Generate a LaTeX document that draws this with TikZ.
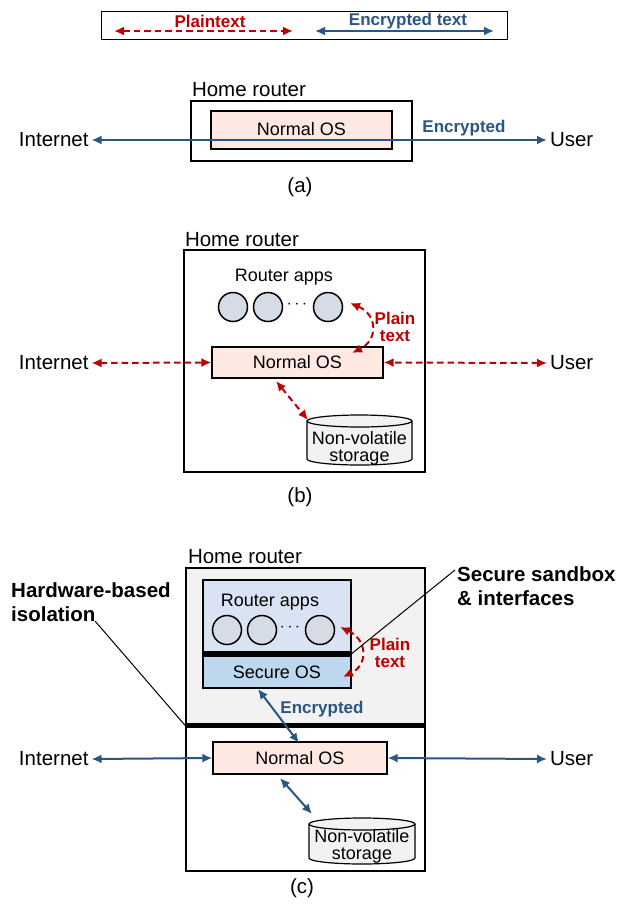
\documentclass[tikz,border=0pt]{standalone}
\usepackage{fontspec}
\setmainfont{Liberation Sans}
\usetikzlibrary{arrows.meta}
\definecolor{cred}{HTML}{C00000}
\definecolor{cblue}{HTML}{2B5582}
\definecolor{cpink}{HTML}{FDE9E2}
\definecolor{cgray}{HTML}{F2F2F2}
\definecolor{capps}{HTML}{DAE3F3}
\definecolor{csos}{HTML}{BDD7EE}
\definecolor{ccirc}{HTML}{D6DCE5}
\begin{document}
\begin{tikzpicture}[x=1pt,y=-1pt,
 big/.style={font=\fontsize{20.5}{22}\selectfont, inner sep=0pt, outer sep=3pt},
 mid/.style={font=\fontsize{18}{17}\selectfont, inner sep=0pt, align=center},
 boldlbl/.style={font=\bfseries\fontsize{17}{17}\selectfont, inner sep=0pt, align=center},
 bigbold/.style={font=\bfseries\fontsize{20.5}{24}\selectfont, inner sep=0pt, align=left},
 osbox/.style={draw, line width=1.3pt, fill=cpink, font=\fontsize{18}{20}\selectfont, inner sep=0pt},
 frame/.style={draw, line width=1.3pt, inner sep=0pt},
 app/.style={circle, draw, line width=1.5pt, fill=ccirc, minimum size=29pt, inner sep=0pt},
 encarrow/.style={cblue, line width=2pt, {Latex[length=10pt,width=9pt]}-{Latex[length=10pt,width=9pt]}},
 plainarrow/.style={cred, line width=2pt, dash pattern=on 6.5pt off 4pt, {Latex[length=10pt,width=9pt]}-{Latex[length=10pt,width=9pt]}},
 leader/.style={line width=1pt},
 storage/.style={draw, line width=1.2pt, fill=cgray},
]
\useasboundingbox (0,0) rectangle (617,906);

% ---------------- legend ----------------
\node[draw, line width=1pt, minimum width=406pt, minimum height=28pt, inner sep=0pt] (legend) at (304,25) {};
\node[boldlbl, text=cred] (lgplain) at (210,21.5) {Plaintext};
\node[boldlbl, text=cblue] (lgenc) at (408,21.5) {Encrypted text};
\coordinate (lp1) at (114,31);
\coordinate (lp2) at (293,31);
\coordinate (le1) at (315,31);
\coordinate (le2) at (494,31);
\draw[plainarrow] (lp1) -- (lp2);
\draw[encarrow] (le1) -- (le2);

% ---------------- (a) ----------------
\node[big, anchor=west] (hrA) at (189,90) {Home router};
\node[frame, minimum width=221pt, minimum height=60pt] (boxA) at (301.5,131) {};
\node[osbox, minimum width=181pt, minimum height=38pt] (nosA) at (301.5,130) {\raisebox{2pt}{Normal OS}};
\node[big, anchor=west] (inetA) at (16,140) {Internet};
\node[big, anchor=west] (userA) at (547,140) {User};
\draw[encarrow] (inetA.east) -- (userA.west);
\node[boldlbl, text=cblue] (encA) at (464,128) {Encrypted};
\node[big] (capA) at (300,187) {(a)};

% ---------------- (b) ----------------
\node[big, anchor=west] (hrB) at (182,240) {Home router};
\node[frame, minimum width=241pt, minimum height=222pt] (boxB) at (304.5,361) {};
\node[mid] (appsB) at (284,277) {Router apps};
\node[app] (a1B) at (233,307) {};
\node[app] (a2B) at (268,307) {};
\node[app] (a3B) at (328,307) {};
\node[mid] (dotsB) at (297,305) {$\cdots$};
\node[osbox, minimum width=171pt, minimum height=31pt] (nosB) at (297.5,362.5) {Normal OS};
\node[big, anchor=west] (inetB) at (16,363) {Internet};
\node[big, anchor=west] (userB) at (547,363) {User};
\draw[plainarrow] (inetB.east) -- (nosB.west);
\draw[plainarrow] (userB.west) -- (nosB.east);
\coordinate (pb1) at (350,303);
\coordinate (pb2) at (352,353);
\draw[plainarrow] (pb1) .. controls (378,315) and (378,340) .. (pb2);
\node[boldlbl, text=cred] (ptB) at (395,327) {Plain\\text};
\draw[storage] (307,421) -- (307,459) arc[start angle=180, end angle=0, x radius=52.5, y radius=6]
  -- (412,421) arc[start angle=0, end angle=-180, x radius=52.5, y radius=6] -- cycle;
\draw[line width=1.2pt] (307,421) arc[start angle=180, end angle=0, x radius=52.5, y radius=6];
\node[mid] (stB) at (359.5,448) {Non-volatile\\storage};
\coordinate (nosBs) at (276,381);
\coordinate (stBt) at (308,420);
\draw[plainarrow] (nosBs) -- (stBt);
\node[big] (capB) at (300,497) {(b)};

% ---------------- (c) ----------------
\node[big, anchor=west] (hrC) at (185,557) {Home router};
\node[frame, fill=cgray, minimum width=239pt, minimum height=157pt] (trC) at (305.5,646.5) {};
\node[frame, minimum width=239pt, minimum height=146pt] (nwC) at (305.5,798) {};
\draw[line width=5pt] (trC.south west) -- (trC.south east);
\node[draw, line width=1.3pt, fill=capps, minimum width=148pt, minimum height=73pt, inner sep=0pt] (appsC) at (277,616.5) {};
\node[draw, line width=1.3pt, fill=csos, minimum width=148pt, minimum height=35pt, inner sep=0pt] (sosC) at (277,670.5) {};
\draw[line width=6pt] (appsC.south west) -- (appsC.south east);
\node[mid] (appslC) at (270,602) {Router apps};
\node[mid] (soslC) at (277,672) {Secure OS};
\node[app] (a1C) at (227,630) {};
\node[app] (a2C) at (262,630) {};
\node[app] (a3C) at (320,630) {};
\node[mid] (dotsC) at (290,628) {$\cdots$};
\coordinate (pc1) at (340,627);
\coordinate (pc2) at (343,677);
\draw[plainarrow] (pc1) .. controls (368,640) and (368,665) .. (pc2);
\node[boldlbl, text=cred] (ptC) at (390,653) {Plain\\text};
\node[bigbold, anchor=north west] (ssC) at (457,566) {Secure sandbox\\\& interfaces};
\coordinate (ssend) at (455,570);
\draw[leader] (ssend) -- (appsC.south east);
\node[bigbold, anchor=north west] (hwC) at (11,582.5) {Hardware-based\\isolation};
\coordinate (hwend) at (95,621);
\draw[leader] (hwend) -- (trC.south west);
\node[osbox, minimum width=174pt, minimum height=32pt] (nosC) at (300,758) {Normal OS};
\coordinate (sosb) at (258,689);
\coordinate (nosCt) at (299,743);
\draw[encarrow] (sosb) -- (nosCt);
\node[boldlbl, text=cblue] (encC) at (322,709) {Encrypted};
\node[big, anchor=west] (inetC) at (16,759) {Internet};
\node[big, anchor=west] (userC) at (547,759) {User};
\draw[encarrow] (inetC.east) -- (nosC.west);
\draw[encarrow] (userC.west) -- (nosC.east);
\draw[storage] (309,824) -- (309,858) arc[start angle=180, end angle=0, x radius=53, y radius=6]
  -- (415,824) arc[start angle=0, end angle=-180, x radius=53, y radius=6] -- cycle;
\draw[line width=1.2pt] (309,824) arc[start angle=180, end angle=0, x radius=53, y radius=6];
\node[mid] (stC) at (362,846) {Non-volatile\\storage};
\coordinate (nosCs) at (280,778);
\coordinate (stCt) at (312,814);
\draw[encarrow] (nosCs) -- (stCt);
\node[big] (capC) at (302,888) {(c)};
\end{tikzpicture}
\end{document}
